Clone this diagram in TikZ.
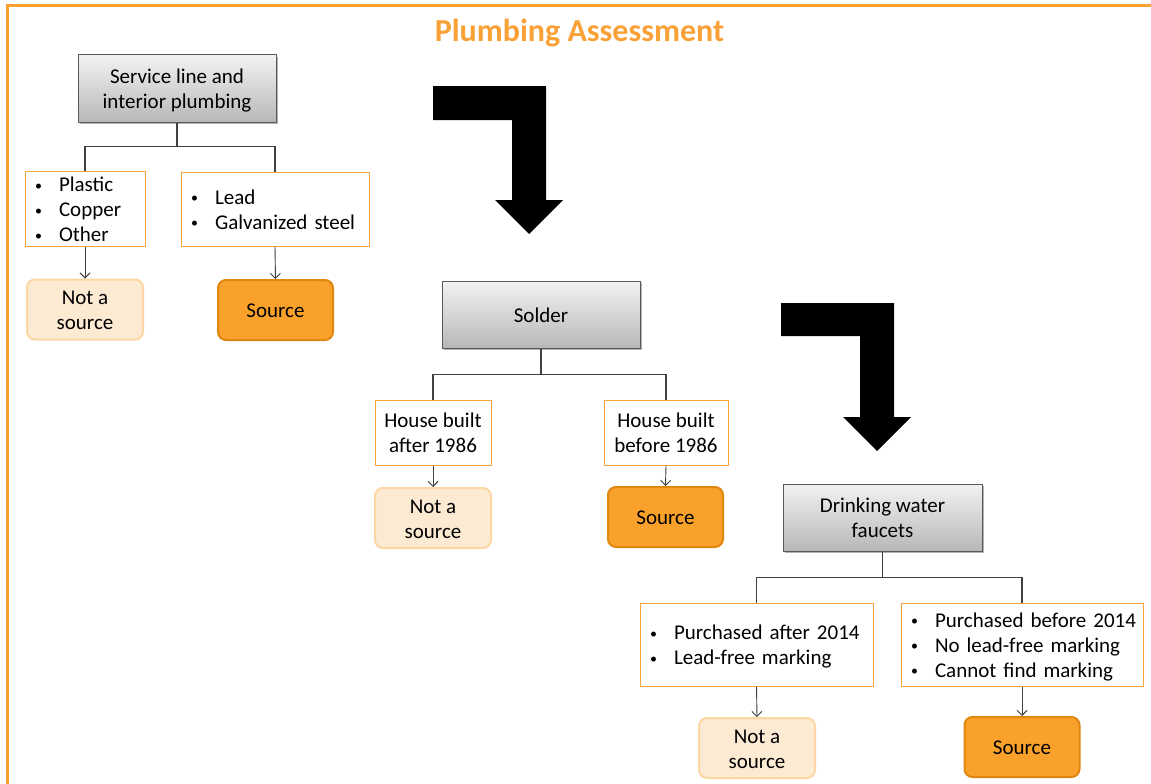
\documentclass[tikz,border=0pt]{standalone}
\usepackage{fontspec}
\setmainfont{Carlito}
\usetikzlibrary{arrows.meta,shadows}
\definecolor{frameor}{HTML}{F9A12E}
\definecolor{titleor}{HTML}{F9A136}
\definecolor{boxor}{HTML}{F7A33A}
\definecolor{srcfill}{HTML}{FAA12B}
\definecolor{srcdraw}{HTML}{E0870F}
\definecolor{notfill}{HTML}{FDEAD3}
\definecolor{notdraw}{HTML}{FCD7A4}
\definecolor{linegray}{HTML}{404040}
\newcommand\bitem[1]{\mbox{\makebox[24pt][l]{\raisebox{1.5pt}{\fontsize{14}{14}\selectfont\textbullet}}#1}}
\newcommand\ls{\rule[-4.85pt]{0pt}{25pt}}
\begin{document}
\begin{tikzpicture}[x=1pt,y=-1pt,
  every node/.style={font=\fontsize{21}{25}\selectfont, inner sep=0pt},
  graybox/.style={draw=black!65, line width=1pt, top color=black!5, bottom color=black!28,
    drop shadow={shadow xshift=1.5pt, shadow yshift=-2pt, opacity=0.3, fill=black},
    align=center},
  bulletbox/.style={draw=boxor, line width=1pt, fill=white, inner xsep=10pt, align=left},
  srcbox/.style={draw=srcdraw, fill=srcfill, line width=2pt, rounded corners=8pt,
    minimum width=115pt, minimum height=60pt, align=center},
  notbox/.style={draw=notdraw, fill=notfill, line width=2pt, rounded corners=8pt,
    minimum width=116pt, minimum height=60pt, align=center},
  tree/.style={draw=linegray, line width=1.1pt},
  arr/.style={draw=linegray, line width=0.9pt, -{Straight Barb[length=5pt,width=10pt]}},
  bigarrow/.style={fill=black}
]
\useasboundingbox (0,0) rectangle (1151,784);
\fill[white] (0,0) rectangle (1151,784);
% frame
\draw[frameor, line width=3pt] (7,784) -- (7,5.5) -- (1151,5.5);
% title
\node[font=\fontsize{32}{38}\selectfont\bfseries, text=titleor, anchor=base] (title) at (579.5,42) {Plumbing Assessment};

% ---- stage 1
\node[graybox, minimum width=198pt, minimum height=67pt] (s1) at (177,88.5) {\ls Service line and\\interior plumbing\ls};
\node[bulletbox, text width=100pt, minimum height=74pt] (a1) at (85,209) {\ls\bitem{Plastic}\\\bitem{Copper}\\\bitem{Other}\ls};
\node[bulletbox, text width=168pt, minimum height=74pt] (b1) at (275,209) {\ls\bitem{Lead}\\\bitem{Galvanized steel}\ls};
\node[notbox] (n1) at (85,309.5) {\ls Not a\\source\ls};
\node[srcbox] (r1) at (275.5,310) {\ls Source\ls};
\draw[tree] (s1.south) -- ++(0,24) coordinate (m1);
\draw[tree] (m1) -| (a1.north);
\draw[tree] (m1) -| (b1.north);
\draw[arr] (a1.south) -- (n1.north);
\draw[arr] (b1.south) -- (r1.north);

% big arrow 1
\fill[bigarrow] (433,86) -- (546,86) -- (546,200) -- (563,200) -- (529,234) -- (495,200) -- (512,200) -- (512,120) -- (433,120) -- cycle;

% ---- stage 2
\node[graybox, minimum width=198pt, minimum height=67pt] (s2) at (541,314.5) {\ls Solder\ls};
\node[bulletbox, align=center, inner xsep=0pt, minimum width=116pt, minimum height=65pt] (a2) at (433,432.5) {\ls House built\\after 1986\ls};
\node[bulletbox, align=center, inner xsep=0pt, minimum width=124pt, minimum height=65pt] (b2) at (666,432.5) {\ls House built\\before 1986\ls};
\node[notbox] (n2) at (433,518) {\ls Not a\\source\ls};
\node[srcbox] (r2) at (665.5,517) {\ls Source\ls};
\draw[tree] (s2.south) -- ++(0,26) coordinate (m2);
\draw[tree] (m2) -| (a2.north);
\draw[tree] (m2) -| (b2.north);
\draw[arr] (a2.south) -- (n2.north);
\draw[arr] (b2.south) -- (r2.north);

% big arrow 2
\fill[bigarrow] (781,303) -- (894,303) -- (894,417) -- (911,417) -- (877,451) -- (843,417) -- (860,417) -- (860,336) -- (781,336) -- cycle;

% ---- stage 3
\node[graybox, minimum width=199pt, minimum height=67pt] (s3) at (882.5,517.5) {\ls Drinking water\\faucets\ls};
\node[bulletbox, text width=213pt, minimum height=83pt] (a3) at (756.5,644.5) {\ls\bitem{Purchased after 2014}\\\bitem{Lead-free marking}\ls};
\node[bulletbox, text width=222pt, minimum height=83pt] (b3) at (1022,644.5) {\ls\bitem{Purchased before 2014}\\\bitem{No lead-free marking}\\\bitem{Cannot find marking}\ls};
\node[notbox] (n3) at (757,748) {\ls Not a\\source\ls};
\node[srcbox] (r3) at (1022,747) {\ls Source\ls};
\draw[tree] (s3.south) -- ++(0,26) coordinate (m3);
\draw[tree] (m3) -| (a3.north);
\draw[tree] (m3) -| (b3.north);
\draw[arr] (a3.south) -- (n3.north);
\draw[arr] (b3.south) -- (r3.north);
\end{tikzpicture}
\end{document}
